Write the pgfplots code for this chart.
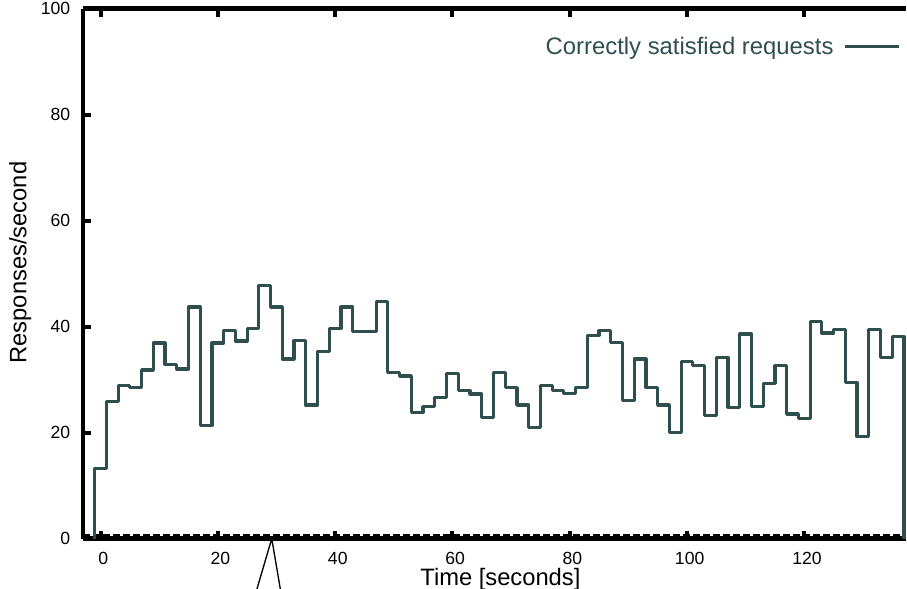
\documentclass[border=0pt]{standalone}
\usepackage{pgfplots}
\pgfplotsset{compat=1.18}
\usepackage{fontspec}
\setmainfont{Liberation Sans}
\definecolor{dsg}{RGB}{47,79,79}
\begin{document}
\begin{tikzpicture}
\begin{axis}[
  at={(0,0)}, anchor=south west,
  scale only axis, width=617.6pt, height=397.5pt,
  xmin=-3, xmax=137.4, ymin=0, ymax=100,
  axis x line=box, axis y line*=left,
  axis line style={line width=3.4pt, black},
  tick align=inside,
  major tick length=6pt,
  tick style={line width=3pt, black},
  xtick={0,20,...,120}, ytick={0,20,...,100},
  /pgf/number format/assume math mode=true,
  tick label style={font=\fontsize{13.2}{15}\selectfont},
  xticklabel style={yshift=-7pt, xshift=2pt},
  yticklabel style={xshift=-6pt},
  clip=false,
  xlabel={Time [seconds]}, ylabel={Responses/second},
  every axis x label/.style={at={(rel axis cs:0.507,0)}, anchor=center, yshift=-30.5pt, font=\fontsize{17.8}{20}\selectfont},
  every axis y label/.style={at={(rel axis cs:0,0.521)}, anchor=center, rotate=90, yshift=47pt, font=\fontsize{17.8}{20}\selectfont},
  legend plot pos=right,
  legend style={at={(rel axis cs:0.9935,0.928)}, anchor=east, draw=none, fill=none,
    font=\fontsize{17.9}{20}\selectfont, text=dsg, inner sep=0pt},
  legend image code/.code={\path (0pt,0pt); \draw[dsg, line width=2.4pt] (5.5pt,0pt) -- (46pt,0pt);},
]
\addplot[black, line width=1.5pt, dash pattern=on 5pt off 2.5pt, forget plot] coordinates {(-3,0.7) (137.4,0.7)};
\addplot[dsg, line width=2.4pt, line join=round, const plot mark left] coordinates {
(-1,0) (-1,13.3) (1,25.8) (3,28.9) (5,28.5) (7,31.8) (9,36.9) (11,32.9) (13,32.0)
(15,43.7) (17,21.3) (19,36.9) (21,39.2) (23,37.3) (25,39.7) (27,47.7) (29,43.7)
(31,33.9) (33,37.4) (35,25.2) (37,35.3) (39,39.7) (41,43.7) (43,39.1) (45,39.1)
(47,44.7) (49,31.3) (51,30.7) (53,23.8) (55,24.9) (57,26.6) (59,31.2) (61,27.9)
(63,27.3) (65,22.8) (67,31.3) (69,28.5) (71,25.2) (73,21.0) (75,28.9) (77,27.9)
(79,27.4) (81,28.5) (83,38.4) (85,39.2) (87,37.0) (89,26.0) (91,33.9) (93,28.5)
(95,25.2) (97,20.1) (99,33.4) (101,32.6) (103,23.2) (105,34.2) (107,24.8) (109,38.6)
(111,25.0) (113,29.3) (115,32.6) (117,23.5) (119,22.6) (121,40.9) (123,38.8) (125,39.4)
(127,29.4) (129,19.2) (131,39.4) (133,34.2) (135,38.1) (137,0)};
\addlegendentry{Correctly satisfied requests}
\draw[black, line width=1pt] (axis cs:29.2,0) ++(-11.1pt,-37.7pt) -- (axis cs:29.2,0) -- ++(6.4pt,-37.7pt);
\end{axis}
\pgfresetboundingbox
\path[use as bounding box] (-62.2pt,-37.7pt) rectangle (618.1pt,404.0pt);
\end{tikzpicture}
\end{document}
